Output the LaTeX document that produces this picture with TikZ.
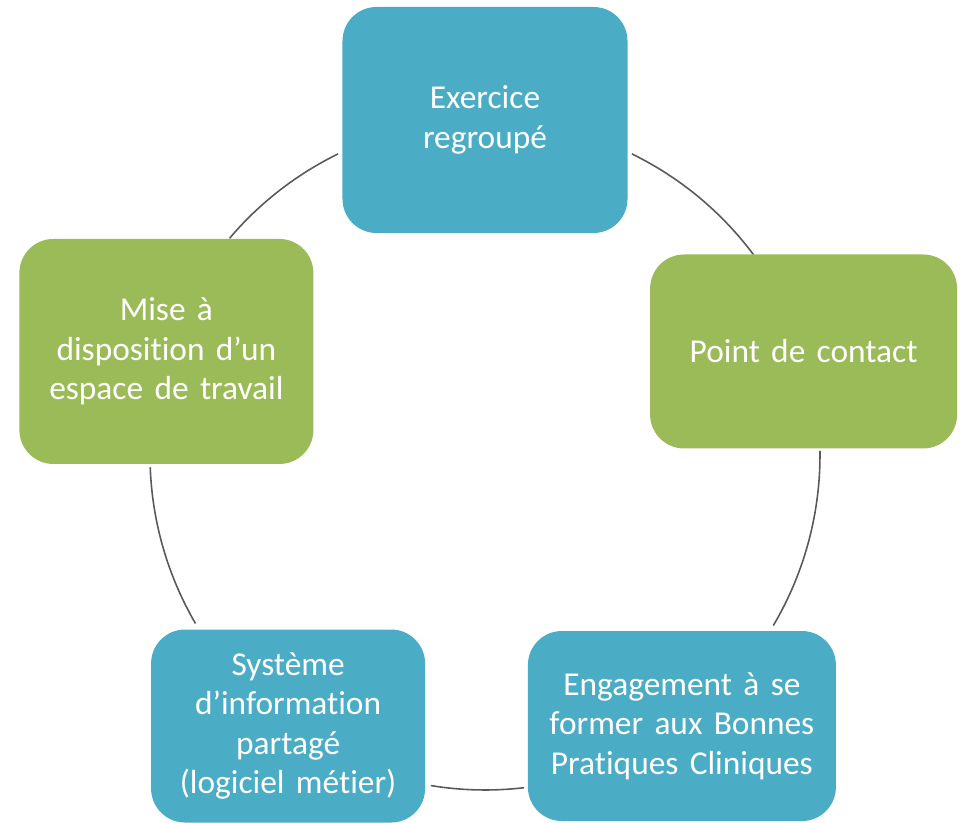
\documentclass[tikz,border=0pt]{standalone}
\usepackage{fontspec}
\setmainfont{Carlito}[Ligatures=NoCommon, WordSpace=1.5]
\definecolor{cycleblue}{HTML}{4BACC6}
\definecolor{cyclegreen}{HTML}{9BBB59}
\tikzset{
    stage/.style={rounded corners=0.68cm, text=white, align=center, inner sep=0pt,
        font=\fontsize{19}{22.5}\selectfont},
    bluestage/.style={stage, fill=cycleblue},
    greenstage/.style={stage, fill=cyclegreen},
    link/.style={draw=black!65, line width=0.9pt}
}
\begin{document}
\begin{tikzpicture}
    \useasboundingbox (-9.70,-7.36) rectangle (9.64,9.10);
    \coordinate (cen) at (0,0);

    \draw[link] (cen) ++(64:6.7) arc[start angle=64, end angle=36.7, radius=6.7];
    \draw[link] (cen) ++(0.7:6.7) arc[start angle=0.7, end angle=-30.6, radius=6.7];
    \draw[link] (cen) ++(-83.3:6.7) arc[start angle=-83.3, end angle=-99.3, radius=6.7];
    \draw[link] (cen) ++(210.2:6.7) arc[start angle=210.2, end angle=182.1, radius=6.7];
    \draw[link] (cen) ++(139.7:6.7) arc[start angle=139.7, end angle=116, radius=6.7];

    \node[bluestage, minimum width=5.70cm, minimum height=4.52cm] (exercice) at (90:6.7)
        {Exercice\\regroupé};
    \node[greenstage, minimum width=6.14cm, minimum height=3.88cm] (contact) at (18:6.7)
        {Point de contact};
    \node[bluestage, minimum width=6.16cm, minimum height=3.80cm] (engagement) at (-54:6.7)
        {Engagement à se\\former aux Bonnes\\Pratiques Cliniques};
    \node[bluestage, minimum width=5.48cm, minimum height=3.86cm] (systeme) at (234:6.7)
        {Système\\d’information\\partagé\\(logiciel métier)};
    \node[greenstage, minimum width=5.88cm, minimum height=4.50cm] (espace) at (162:6.7)
        {Mise à\\disposition d’un\\espace de travail};
\end{tikzpicture}
\end{document}
